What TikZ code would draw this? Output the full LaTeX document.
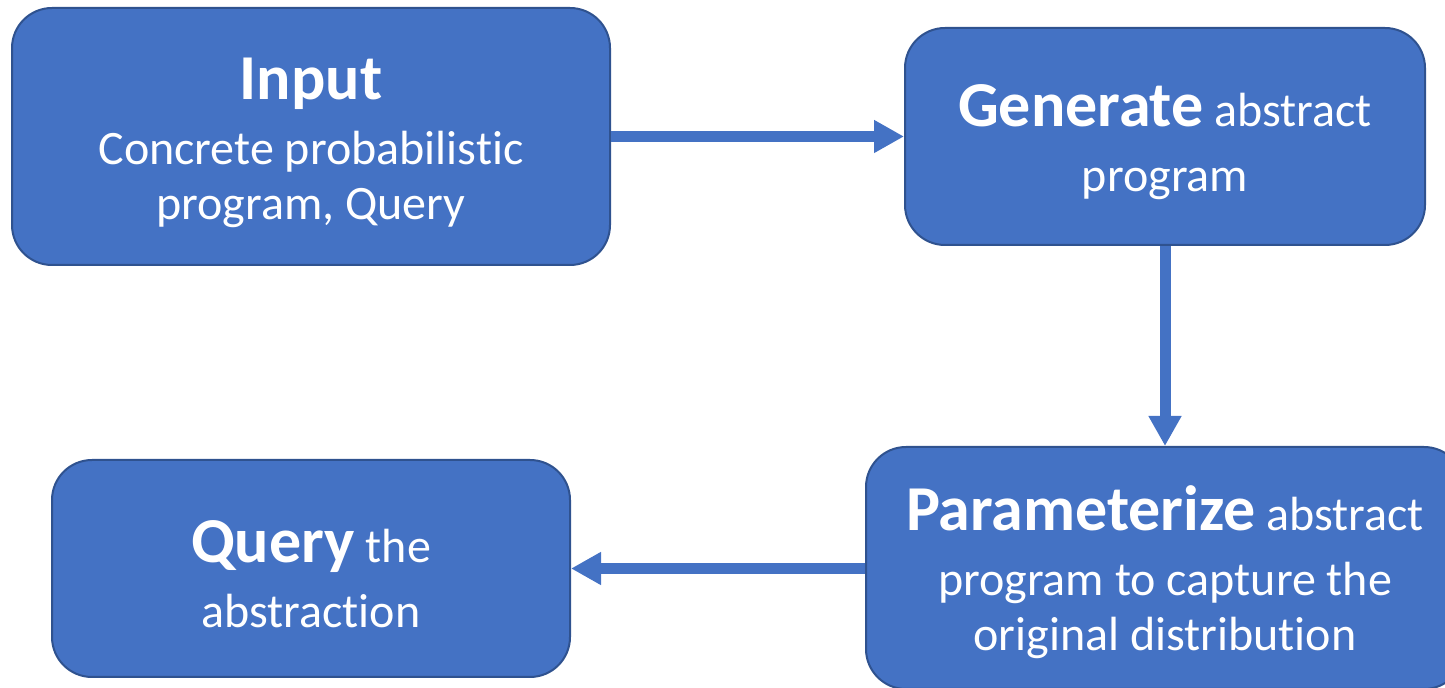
\documentclass[tikz,border=0pt]{standalone}
\usepackage{fontspec}
\setmainfont{Carlito}[Ligatures=NoCommon]
\usetikzlibrary{arrows.meta}
\definecolor{boxfill}{HTML}{4472C4}
\definecolor{boxline}{HTML}{2F528F}
\tikzset{every node/.style={font=\fontsize{24}{27.5}\selectfont}}
\tikzstyle{stage}=[draw=boxline,fill=boxfill,line width=1pt,rounded corners=20pt,text=white,align=center,inner sep=0pt]
\tikzstyle{flow}=[draw=boxfill,line width=5.5pt,-{Triangle[length=15pt,width=15.5pt]}]
\newcommand{\bigword}[1]{{\fontsize{32}{36}\selectfont\bfseries\rule{0pt}{27pt}#1}}

\begin{document}
\begin{tikzpicture}[x=0.5pt,y=-0.5pt]
            \useasboundingbox (0,0) rectangle (1445,688);
            \node [stage,minimum width=299pt,minimum height=128.5pt] (input) at (311,136.5)
                {\bigword{Input}\\[5pt]Concrete probabilistic\\program, Query};
            \node [stage,minimum width=260pt,minimum height=108.5pt] (generate) at (1165,136.5)
                {\bigword{Generate} abstract\\[5pt]program};
            \node [stage,minimum width=299pt,minimum height=121pt] (param) at (1165,568)
                {\bigword{Parameterize} abstract\\[5pt]program to capture the\\original distribution};
            \node [stage,minimum width=259pt,minimum height=108.5pt] (query) at (311,568.5)
                {\bigword{Query} the\\[5pt]abstraction};
            \draw [flow] (input.east) -- (generate.west);
            \draw [flow] (generate.south) -- (generate.south |- param.north);
            \draw [flow] (param.west |- query.east) -- (query.east);
        \end{tikzpicture}
\end{document}
